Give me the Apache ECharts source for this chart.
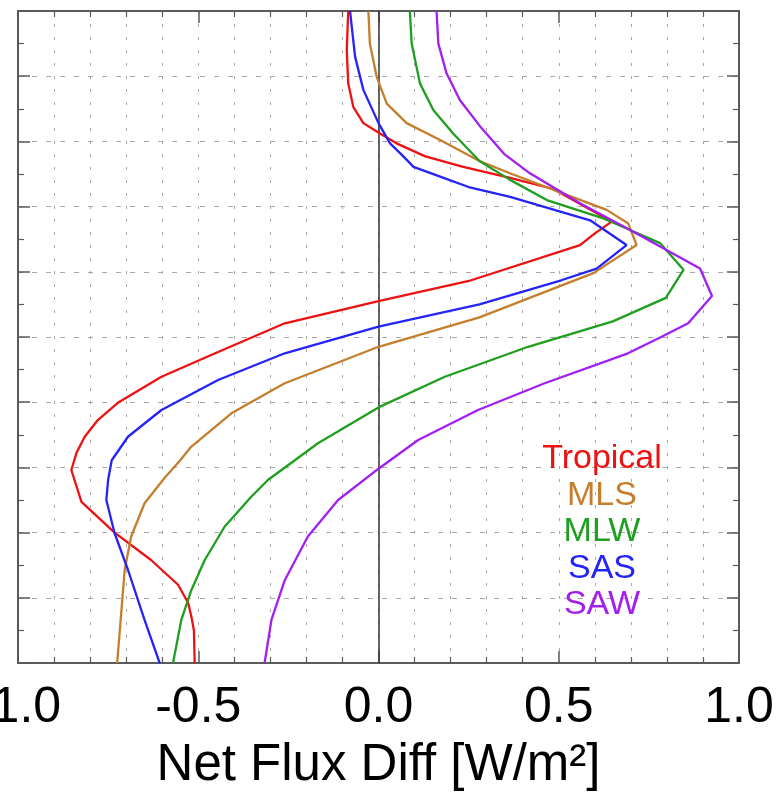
<!DOCTYPE html>
<html>
<head>
<meta charset="utf-8">
<script src="https://cdn.jsdelivr.net/npm/echarts@6/dist/echarts.min.js"></script>
<style>
html,body{margin:0;padding:0;background:#fff;}
#chart{width:777px;height:797px;}
</style>
</head>
<body>
<div id="chart"></div>
<script>
// ---- data (x = net flux diff, y = vertical level index 0..10) ----
const seriesNames = ['Tropical', 'MLS', 'MLW', 'SAS', 'SAW'];
const seriesColors = ['#ee1111', '#c47e2c', '#1f9e1f', '#2424f8', '#a21fef'];

const tropicalY = [0, 0.5, 0.71, 0.92, 1.2, 1.58, 2.0, 2.47, 2.96, 3.22, 3.47, 3.73, 3.99, 4.39, 4.77, 5.21, 5.55, 5.87, 6.41, 6.59, 6.77, 7.0, 7.27, 7.44, 7.61, 7.77, 7.97, 8.12, 8.28, 8.53, 8.89, 9.4, 10];
const tropicalX = [-0.51, -0.512, -0.519, -0.528, -0.556, -0.631, -0.732, -0.824, -0.852, -0.838, -0.815, -0.778, -0.723, -0.602, -0.445, -0.26, 0.0, 0.257, 0.559, 0.6, 0.647, 0.572, 0.485, 0.365, 0.235, 0.13, 0.05, 0.004, -0.042, -0.07, -0.084, -0.088, -0.084];

const mlsY = [0, 0.81, 1.43, 1.94, 2.45, 2.84, 3.11, 3.32, 3.83, 4.29, 4.85, 5.3, 5.98, 6.41, 6.74, 6.95, 7.2, 7.5, 7.7, 8.02, 8.28, 8.58, 8.99, 9.5, 10];
const mlsX = [-0.725, -0.713, -0.704, -0.686, -0.649, -0.593, -0.55, -0.519, -0.408, -0.26, 0.0, 0.28, 0.596, 0.716, 0.693, 0.633, 0.513, 0.37, 0.28, 0.171, 0.078, 0.023, -0.005, -0.024, -0.028];

const mlwY = [0, 0.66, 1.12, 1.58, 2.09, 2.55, 2.81, 3.11, 3.37, 3.92, 4.39, 4.85, 5.24, 5.6, 6.03, 6.44, 6.64, 6.82, 7.1, 7.41, 7.7, 8.12, 8.48, 8.89, 9.5, 10];
const mlwX = [-0.57, -0.547, -0.519, -0.482, -0.427, -0.353, -0.306, -0.232, -0.168, 0.0, 0.184, 0.415, 0.65, 0.797, 0.846, 0.781, 0.698, 0.624, 0.467, 0.365, 0.28, 0.207, 0.152, 0.115, 0.092, 0.087];

const sasY = [0, 0.66, 1.43, 1.99, 2.5, 2.81, 3.11, 3.47, 3.88, 4.34, 4.75, 5.16, 5.5, 5.87, 6.05, 6.41, 6.79, 7.15, 7.3, 7.46, 7.61, 7.77, 7.97, 8.28, 8.79, 9.3, 10];
const sasX = [-0.607, -0.649, -0.695, -0.732, -0.755, -0.75, -0.74, -0.695, -0.602, -0.445, -0.26, 0.0, 0.28, 0.507, 0.605, 0.688, 0.587, 0.365, 0.25, 0.171, 0.097, 0.069, 0.032, 0.0, -0.042, -0.065, -0.079];

const sawY = [0, 0.66, 1.27, 1.94, 2.5, 2.98, 3.42, 3.88, 4.29, 4.75, 5.0, 5.21, 5.63, 6.05, 6.33, 6.64, 7.05, 7.51, 7.8, 8.23, 8.63, 9.04, 9.5, 10];
const sawX = [-0.316, -0.297, -0.26, -0.196, -0.112, 0.0, 0.11, 0.276, 0.461, 0.692, 0.784, 0.859, 0.925, 0.892, 0.8, 0.698, 0.559, 0.42, 0.35, 0.282, 0.226, 0.189, 0.166, 0.161];

const xTickMin = -1, xTickMax = 1, xTickStep = 0.5;
const yMin = 0, yMax = 10, yStep = 1;
const xTitle = 'Net Flux Diff [W/m²]';

// ---- build ----
const allX = [tropicalX, mlsX, mlwX, sasX, sawX];
const allY = [tropicalY, mlsY, mlwY, sasY, sawY];
const FONT = '"Liberation Sans", Arial, Helvetica, sans-serif';
const axisColor = '#5a5a5a';
const gridColor = '#a8a8a8';

const series = seriesNames.map((name, i) => ({
  name: name,
  type: 'line',
  xAxisIndex: 0,
  yAxisIndex: 0,
  data: allX[i].map((x, k) => [x, allY[i][k]]),
  symbol: 'none',
  smooth: false,
  clip: true,
  lineStyle: { color: seriesColors[i], width: 2.3 },
  itemStyle: { color: seriesColors[i] },
  z: 3
}));
series[0].markLine = {
  silent: true,
  symbol: ['none', 'none'],
  label: { show: false },
  lineStyle: { color: '#333', width: 1.5, type: 'solid' },
  data: [{ xAxis: 0 }],
  z: 2
};

function xAxisBase(pos) {
  return {
    type: 'value', position: pos, min: xTickMin, max: xTickMax, interval: xTickStep,
    axisLine: { show: true, onZero: false, lineStyle: { color: axisColor, width: 2 } },
    axisTick: { show: true, inside: true, length: 12, lineStyle: { color: axisColor, width: 1.5 } },
    minorTick: { show: true, splitNumber: 5, length: 6, lineStyle: { color: axisColor, width: 1.2 } }
  };
}
function yAxisBase(pos) {
  return {
    type: 'value', position: pos, min: yMin, max: yMax, interval: yStep,
    axisLine: { show: true, onZero: false, lineStyle: { color: axisColor, width: 2 } },
    axisTick: { show: true, inside: true, length: 12, lineStyle: { color: axisColor, width: 1.5 } },
    minorTick: { show: true, splitNumber: 2, length: 6, lineStyle: { color: axisColor, width: 1.2 } },
    axisLabel: { show: false }
  };
}

const xBottom = Object.assign(xAxisBase('bottom'), {
  axisLabel: {
    show: true, fontSize: 50, color: '#000', fontFamily: FONT, margin: 20,
    showMinLabel: true, showMaxLabel: true,
    formatter: v => v.toFixed(1)
  },
  splitLine: { show: true, lineStyle: { color: gridColor, type: [3, 10], width: 1 } },
  minorSplitLine: { show: true, lineStyle: { color: gridColor, type: [3, 10], width: 1 } },
  name: xTitle, nameLocation: 'middle', nameGap: 77,
  nameTextStyle: { fontSize: 51, color: '#000', fontFamily: FONT }
});
const xTop = Object.assign(xAxisBase('top'), {
  axisLabel: { show: false }, splitLine: { show: false }
});
const yLeft = Object.assign(yAxisBase('left'), {
  splitLine: { show: true, lineStyle: { color: gridColor, type: [5, 9], width: 1 } }
});
const yRight = Object.assign(yAxisBase('right'), { splitLine: { show: false } });

const legendTexts = seriesNames.map((n, i) => ({
  type: 'text',
  x: 602, y: 459 + i * 36.5,
  z: 10,
  style: {
    text: n, fill: seriesColors[i], fontSize: 34, fontFamily: FONT,
    align: 'center', verticalAlign: 'middle'
  }
}));

const chart = echarts.init(document.getElementById('chart'), null, { renderer: 'canvas' });
chart.setOption({
  animation: false,
  backgroundColor: '#fff',
  grid: { left: 18, right: 38, top: 11, bottom: 134, containLabel: false, outerBoundsMode: 'none' },
  xAxis: [xBottom, xTop],
  yAxis: [yLeft, yRight],
  series: series,
  graphic: legendTexts
});
</script>
</body>
</html>
